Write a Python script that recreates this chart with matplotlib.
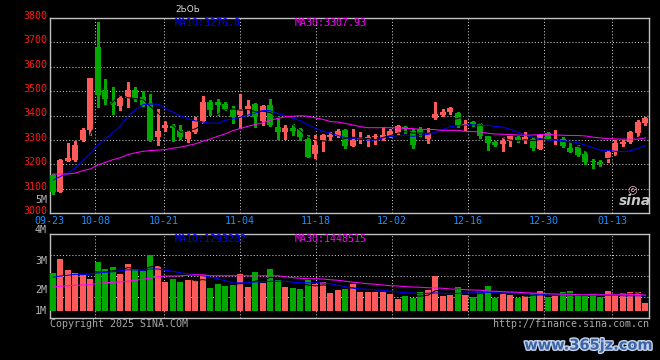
import numpy as np
import pandas as pd
import matplotlib
matplotlib.use("Agg")
import matplotlib.pyplot as plt
from matplotlib.transforms import offset_copy, blended_transform_factory
import matplotlib.patheffects as pe

# ---------------- data ----------------
opens = [3155, 3088, 3214, 3219, 3301, 3340, 3681, 3503, 3455, 3441,
         3470, 3503, 3475, 3452, 3310, 3347, 3356, 3342, 3304, 3331,
         3379, 3455, 3455, 3449, 3425, 3401, 3425, 3449, 3379, 3445,
         3351, 3331, 3347, 3345, 3305, 3242, 3295, 3312, 3315, 3341,
         3276, 3303, 3303, 3310, 3305, 3316, 3330, 3354, 3337, 3346,
         3303, 3388, 3401, 3413, 3409, 3363, 3373, 3364, 3314, 3292,
         3284, 3296, 3312, 3300, 3303, 3262, 3327, 3300, 3305, 3266,
         3270, 3242, 3212, 3210, 3224, 3252, 3282, 3292, 3327, 3368]
highs = [3158, 3222, 3289, 3297, 3349, 3552, 3784, 3548, 3516, 3486,
         3537, 3515, 3500, 3490, 3425, 3377, 3367, 3363, 3342, 3395,
         3482, 3462, 3468, 3455, 3438, 3489, 3462, 3452, 3442, 3466,
         3397, 3360, 3367, 3349, 3322, 3318, 3325, 3331, 3345, 3345,
         3346, 3333, 3319, 3326, 3354, 3346, 3361, 3357, 3346, 3354,
         3350, 3456, 3425, 3436, 3414, 3382, 3379, 3368, 3316, 3296,
         3310, 3316, 3315, 3333, 3312, 3323, 3333, 3340, 3312, 3292,
         3278, 3255, 3221, 3218, 3255, 3300, 3300, 3335, 3380, 3395]
lows = [3080, 3085, 3212, 3212, 3295, 3322, 3435, 3448, 3407, 3422,
        3434, 3459, 3440, 3296, 3281, 3336, 3297, 3305, 3290, 3328,
        3370, 3404, 3404, 3422, 3370, 3349, 3404, 3352, 3360, 3356,
        3305, 3305, 3322, 3301, 3229, 3226, 3253, 3301, 3312, 3265,
        3273, 3289, 3276, 3283, 3300, 3310, 3326, 3330, 3266, 3316,
        3286, 3386, 3398, 3405, 3354, 3341, 3357, 3308, 3259, 3273,
        3255, 3276, 3293, 3289, 3258, 3262, 3303, 3282, 3269, 3249,
        3232, 3201, 3186, 3191, 3210, 3239, 3273, 3286, 3316, 3361]
closes = [3085, 3219, 3227, 3281, 3342, 3552, 3484, 3466, 3442, 3470,
          3503, 3466, 3445, 3299, 3338, 3360, 3347, 3312, 3331, 3377,
          3455, 3421, 3442, 3425, 3393, 3427, 3438, 3393, 3438, 3363,
          3331, 3347, 3336, 3312, 3229, 3281, 3322, 3322, 3336, 3273,
          3300, 3306, 3312, 3313, 3319, 3337, 3357, 3343, 3281, 3323,
          3330, 3405, 3416, 3429, 3360, 3366, 3364, 3314, 3289, 3281,
          3296, 3314, 3300, 3310, 3266, 3319, 3305, 3305, 3273, 3251,
          3239, 3210, 3209, 3202, 3252, 3286, 3293, 3333, 3375, 3391]
ma10 = [3135, 3150, 3165, 3185, 3215, 3245, 3278, 3305, 3330, 3356.8,
        3398.6, 3423.3, 3445.1, 3446.9, 3446.5, 3427.3, 3413.6, 3398.2, 3387.1, 3377.8,
        3373.0, 3368.5, 3368.2, 3380.8, 3386.3, 3393.0, 3402.1, 3410.2, 3420.9, 3419.5,
        3407.1, 3399.7, 3389.1, 3377.8, 3361.4, 3346.8, 3335.2, 3328.1, 3317.9, 3308.9,
        3305.8, 3301.7, 3299.3, 3299.4, 3308.4, 3314.0, 3317.5, 3319.6, 3314.1, 3319.1,
        3322.1, 3332.0, 3342.4, 3354.0, 3358.1, 3361.0, 3361.7, 3358.8, 3359.6, 3355.4,
        3352.0, 3342.9, 3331.3, 3319.4, 3310.0, 3305.3, 3299.4, 3298.5, 3296.9, 3293.9,
        3288.2, 3277.8, 3268.7, 3257.9, 3256.5, 3253.2, 3252.0, 3254.8, 3265.0, 3276.8]
ma30 = [3160, 3160, 3160, 3164, 3174, 3181, 3197, 3208, 3219, 3227,
        3240, 3247, 3253, 3256, 3258, 3260, 3266, 3270, 3277, 3284,
        3295, 3304, 3315, 3325, 3338, 3347, 3356, 3363, 3370, 3381,
        3388, 3395, 3397, 3399, 3397, 3390, 3384, 3375, 3373, 3367,
        3361, 3354, 3350, 3350, 3350, 3350, 3349, 3347, 3346, 3343,
        3343, 3342, 3339, 3339, 3339, 3335, 3334, 3333, 3327, 3324,
        3323, 3322, 3320, 3319, 3320, 3322, 3323, 3320, 3319, 3318,
        3318, 3316, 3311, 3308, 3305, 3304, 3303, 3303, 3303, 3307.93]
# volume, in millions on the panel scale
volumes = [2.52, 3.07, 2.63, 2.51, 2.43, 2.27, 2.95, 2.67, 2.75, 2.47,
           2.87, 2.67, 2.59, 3.23, 2.79, 2.15, 2.27, 2.15, 2.23, 2.23,
           2.43, 1.91, 2.07, 1.99, 2.03, 2.47, 1.95, 2.55, 2.12, 2.67,
           2.23, 1.95, 1.91, 1.87, 2.23, 2.07, 2.15, 1.71, 1.83, 1.87,
           2.07, 1.75, 1.75, 1.75, 1.75, 1.67, 1.47, 1.59, 1.51, 1.75,
           1.83, 2.39, 1.59, 1.63, 1.95, 1.63, 1.55, 1.75, 1.99, 1.51,
           1.71, 1.63, 1.51, 1.59, 1.71, 1.79, 1.55, 1.59, 1.75, 1.79,
           1.63, 1.59, 1.71, 1.55, 1.79, 1.63, 1.71, 1.75, 1.75, 1.31]
vol_ma10 = [2.35, 2.40, 2.43, 2.47, 2.45, 2.48, 2.52, 2.55, 2.57, 2.61,
            2.65, 2.64, 2.63, 2.68, 2.68, 2.63, 2.59, 2.53, 2.49, 2.45,
            2.41, 2.36, 2.29, 2.21, 2.12, 2.13, 2.13, 2.16, 2.17, 2.19,
            2.19, 2.19, 2.15, 2.13, 2.13, 2.13, 2.12, 2.09, 2.03, 1.97,
            1.92, 1.88, 1.87, 1.84, 1.83, 1.79, 1.76, 1.73, 1.72, 1.69,
            1.71, 1.72, 1.71, 1.69, 1.71, 1.72, 1.72, 1.73, 1.75, 1.75,
            1.76, 1.75, 1.72, 1.69, 1.68, 1.67, 1.64, 1.63, 1.65, 1.64,
            1.63, 1.63, 1.63, 1.63, 1.63, 1.63, 1.61, 1.61, 1.61, 1.60]
vol_ma30 = [1.96, 1.99, 2.01, 2.03, 2.04, 2.05, 2.11, 2.13, 2.15, 2.16,
            2.19, 2.23, 2.27, 2.31, 2.37, 2.40, 2.40, 2.41, 2.43, 2.45,
            2.45, 2.41, 2.41, 2.41, 2.41, 2.41, 2.41, 2.41, 2.41, 2.41,
            2.41, 2.37, 2.33, 2.31, 2.29, 2.29, 2.28, 2.25, 2.23, 2.19,
            2.15, 2.12, 2.09, 2.07, 2.04, 2.01, 2.00, 1.97, 1.96, 1.95,
            1.93, 1.92, 1.91, 1.88, 1.87, 1.85, 1.84, 1.83, 1.80, 1.79,
            1.77, 1.76, 1.75, 1.73, 1.72, 1.71, 1.69, 1.68, 1.67, 1.67,
            1.65, 1.65, 1.65, 1.65, 1.65, 1.65, 1.65, 1.65, 1.65, 1.64]
date_labels = ["09-23", "10-08", "10-21", "11-04", "11-18", "12-02", "12-16", "12-30", "01-13"]
date_label_idx = [0, 6, 15, 25, 35, 45, 55, 65, 74]
price_ticks = [3000, 3100, 3200, 3300, 3400, 3500, 3600, 3700, 3800]
vol_tick_labels = ["5M", "4M", "3M", "2M", "1M"]
title_text = "2ЬОЬ"
price_ma10_text = "MA10:3276.8"
price_ma30_text = "MA30:3307.93"
vol_ma10_text = "MA10:1293282"
vol_ma30_text = "MA30:1448515"
copyright_text = "Copyright 2025 SINA.COM"
url_text = "http://finance.sina.com.cn"
watermark_text = "www.365jz.com"

# ---------------- style / layout ----------------
W, H = 660, 360
RED = "#ff5a5a"
GREEN = "#00a800"
BLUE = "#0000ff"
MAG = "#ff00ff"
FRAME = "#c0c0c0"
GRID = "#c8c8c8"
PRICE_LBL = "#ff1a1a"
DATE_LBL = "#1e8fff"
GRAY_LBL = "#b8b8b8"
MONO = "DejaVu Sans Mono"
FS = 7.2
LW = 0.75
VOL_BASE = 1.0
GRID_STEP = 1.0133      # grid spacing (in bars) used by the chart
GRID_SHIFT = -0.44
VOL_LABEL_Y_PX = [200, 230.5, 261, 290, 310.5]

n = len(closes)
x = np.arange(n)
o = np.array(opens, float); c = np.array(closes, float)
hi = np.array(highs, float); lo = np.array(lows, float)
vol = np.array(volumes, float)
up = c >= o
cols = np.where(up, RED, GREEN)
ma5 = pd.Series(c).rolling(5).mean().to_numpy()
vol_ma5 = pd.Series(vol).rolling(5).mean().to_numpy()

fig = plt.figure(figsize=(W / 100, H / 100), dpi=100, facecolor="black")

def fx(px):
    return px / W

def fy(py):
    return 1 - py / H

ax = fig.add_axes([fx(50), fy(213), fx(599), 195 / H], facecolor="black")
axv = fig.add_axes([fx(50), fy(318), fx(599), 84 / H], facecolor="black")

xlim = (-0.4, 79.47)
grid_x = [GRID_SHIFT + GRID_STEP * i for i in date_label_idx]

for a in (ax, axv):
    a.set_xlim(*xlim)
    a.set_xticks([]); a.set_yticks([])
    for s in a.spines.values():
        s.set_color(FRAME); s.set_linewidth(1.0)
    for gx in grid_x[1:]:
        a.axvline(gx, color=GRID, lw=LW, ls=(0, (1, 2)), zorder=0.5)

# ---- price panel ----
ax.set_ylim(3000, 3800)
for p in price_ticks[1:-1]:
    ax.axhline(p, color=GRID, lw=LW, ls=(0, (1, 2)), zorder=0.5)

ax.vlines(x, lo, hi, colors=cols, lw=LW, zorder=2, antialiased=False)
body_b = np.minimum(o, c)
body_h = np.maximum(np.abs(c - o), 4.0)
ax.bar(x, body_h, bottom=body_b, width=0.8, color=cols, linewidth=0, zorder=3, antialiased=False)
ax.plot(x, ma5, color="black", lw=LW, zorder=4)
ax.plot(x, ma10, color=BLUE, lw=LW, zorder=5)
ax.plot(x, ma30, color=MAG, lw=LW, zorder=5)

tr = offset_copy(blended_transform_factory(ax.transAxes, ax.transData), fig=fig, x=-3, y=2, units="dots")
for p in price_ticks:
    ax.text(0, p, str(p), transform=tr, ha="right", va="center", color=PRICE_LBL,
            fontsize=FS, family=MONO, clip_on=False)

trd = offset_copy(blended_transform_factory(ax.transData, ax.transAxes), fig=fig, x=0, y=-8.5, units="dots")
for gx, lab in zip(grid_x, date_labels):
    ax.text(gx, 0, lab, transform=trd, ha="center", va="center", color=DATE_LBL,
            fontsize=FS, family=MONO, clip_on=False)

# ---- volume panel ----
axv.set_ylim(0.72, 4.08)
for f in (0.25, 0.5, 0.75):
    axv.plot([0, 1], [f, f], transform=axv.transAxes, color=GRID, lw=LW, ls=(0, (1, 2)), zorder=0.5)
axv.bar(x, vol - VOL_BASE, bottom=VOL_BASE, width=0.8, color=cols, linewidth=0, zorder=3, antialiased=False)
axv.plot(x, vol_ma5, color="black", lw=LW, zorder=4)
axv.plot(x, vol_ma10, color=BLUE, lw=LW, zorder=5)
axv.plot(x, vol_ma30, color=MAG, lw=LW, zorder=5)

for lab, py in zip(vol_tick_labels, VOL_LABEL_Y_PX):
    fig.text(fx(47), fy(py), lab, ha="right", va="center", color=GRAY_LBL, fontsize=FS, family=MONO)

# ---- legends / titles ----
fig.text(fx(188), fy(10), title_text, ha="center", va="center", color="#d8d8d8", fontsize=6.5, family="DejaVu Sans")
fig.text(fx(175), fy(23.5), price_ma10_text, ha="left", va="center", color=BLUE, fontsize=FS, family=MONO)
fig.text(fx(295), fy(23.5), price_ma30_text, ha="left", va="center", color=MAG, fontsize=FS, family=MONO)
fig.text(fx(175), fy(238.5), vol_ma10_text, ha="left", va="center", color=BLUE, fontsize=FS, family=MONO)
fig.text(fx(295), fy(238.5), vol_ma30_text, ha="left", va="center", color=MAG, fontsize=FS, family=MONO)
fig.text(fx(50), fy(324), copyright_text, ha="left", va="center", color="#a8a8a8", fontsize=FS, family=MONO)
fig.text(fx(649), fy(324), url_text, ha="right", va="center", color="#a8a8a8", fontsize=FS, family=MONO)

# sina logo
fig.text(fx(632), fy(189), "◎", ha="center", va="center", color="#f4b8c4", fontsize=8, family="DejaVu Sans")
fig.text(fx(635), fy(201), "sina", ha="center", va="center", color="#c8c8c8", fontsize=10,
         family="DejaVu Sans", style="italic", weight="bold")

# watermark
fig.text(fx(653), fy(345), watermark_text, ha="right", va="center", color="#3b63a6", fontsize=10.5,
         family="DejaVu Sans", weight="bold",
         path_effects=[pe.withStroke(linewidth=2.0, foreground="#c6d4ea")])

fig.savefig("out.png", dpi=100, facecolor="black")
